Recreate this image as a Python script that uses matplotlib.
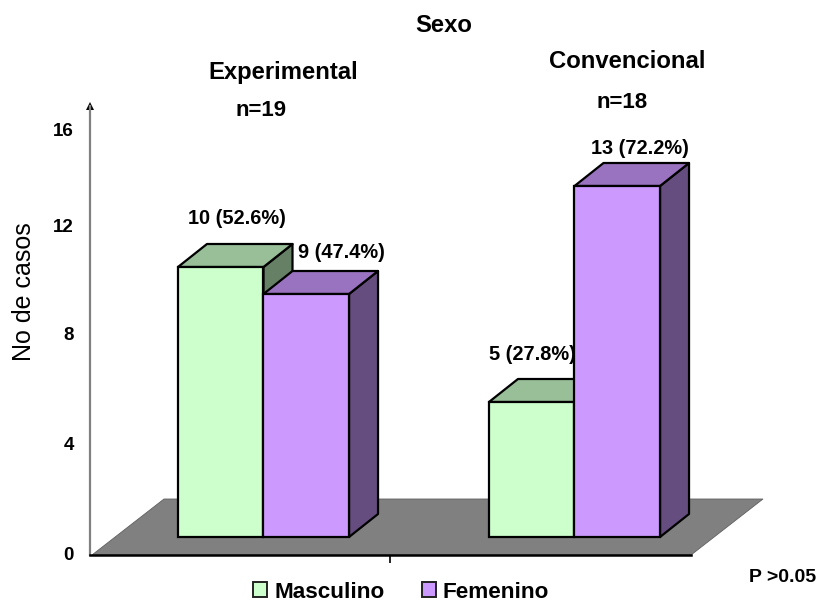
#!/usr/bin/env python
# -*- coding: utf-8 -*-

import matplotlib
matplotlib.use("Agg")
import matplotlib.pyplot as plt
from matplotlib.patches import Patch, Polygon
from matplotlib.transforms import Affine2D

# Data.
group_names = ["Experimental", "Convencional"]
group_sizes = ["n=19", "n=18"]
masculino_counts = [10, 5]
femenino_counts = [9, 13]
masculino_percent = [52.6, 27.8]
femenino_percent = [47.4, 72.2]
y_ticks = [0, 4, 8, 12, 16]

# Globals and constants variables.
WIDTH, HEIGHT = 819, 603
AXES_LEFT, AXES_RIGHT, AXES_BOTTOM, AXES_TOP = 90, 691, 555, 106
PX_PER_CASE = 27.0
PX_PER_GROUP = 311.0
BAR_WIDTH = 0.275
LIFT = 18 / PX_PER_CASE
DEPTH_X = 29 / PX_PER_GROUP
DEPTH_Y = 23 / PX_PER_CASE
EDGE_WIDTH = 1.6

plt.rcParams["font.family"] = ["Liberation Sans", "DejaVu Sans"]


def shade(color, factor):
    rgb = matplotlib.colors.to_rgb(color)
    return tuple(c * factor for c in rgb)


def draw_box(ax, x_center, value, color):
    left = x_center - BAR_WIDTH / 2
    right = x_center + BAR_WIDTH / 2
    bottom = LIFT
    top = LIFT + value

    edge = {"edgecolor": "black", "linewidth": EDGE_WIDTH, "joinstyle": "round", "clip_on": False}
    side = [(right, bottom), (right + DEPTH_X, bottom + DEPTH_Y),
            (right + DEPTH_X, top + DEPTH_Y), (right, top)]
    roof = [(left, top), (right, top),
            (right + DEPTH_X, top + DEPTH_Y), (left + DEPTH_X, top + DEPTH_Y)]
    ax.add_patch(Polygon(side, facecolor=shade(color, 0.5), **edge))
    ax.add_patch(Polygon(roof, facecolor=shade(color, 0.75), **edge))
    ax.bar(x_center, value, BAR_WIDTH, bottom=bottom, color=color, clip_on=False,
           edgecolor="black", linewidth=EDGE_WIDTH)


def label_box(ax, x_center, value, percent, offset):
    ax.annotate(f"{value} ({percent}%)", (x_center, LIFT + value), xytext=offset,
                textcoords="offset pixels", ha="center", va="center",
                fontsize=14.4, fontweight="bold", annotation_clip=False)


fig = plt.figure(figsize=(WIDTH / 100, HEIGHT / 100), dpi=100)
ax = fig.add_axes([AXES_LEFT / WIDTH, 1 - AXES_BOTTOM / HEIGHT,
                   (AXES_RIGHT - AXES_LEFT) / WIDTH, (AXES_BOTTOM - AXES_TOP) / HEIGHT])
ax.patch.set_visible(False)

ax.set_xlim((AXES_LEFT - 263.5) / PX_PER_GROUP, (AXES_RIGHT - 263.5) / PX_PER_GROUP)
ax.set_ylim(0, (AXES_BOTTOM - AXES_TOP) / PX_PER_CASE)

# Floor of the 3D box, drawn behind everything else.
floor_corners = [(AXES_LEFT + 2, AXES_BOTTOM), (AXES_RIGHT, AXES_BOTTOM),
                 (763, 499), (164, 499)]
floor_pixels = [(x, HEIGHT - y) for x, y in floor_corners]
fig.add_artist(Polygon(floor_pixels, closed=True, transform=None, facecolor="#808080",
                       edgecolor="#606060", linewidth=0.6, zorder=0))

for index in range(len(group_names)):
    draw_box(ax, index - BAR_WIDTH / 2, masculino_counts[index], "#CCFFCC")
    draw_box(ax, index + BAR_WIDTH / 2, femenino_counts[index], "#CC99FF")

label_box(ax, 0 - BAR_WIDTH / 2, masculino_counts[0], masculino_percent[0], (16.5, 48))
label_box(ax, 0 + BAR_WIDTH / 2, femenino_counts[0], femenino_percent[0], (35.5, 42))
label_box(ax, 1 - BAR_WIDTH / 2, masculino_counts[1], masculino_percent[1], (0.5, 47))
label_box(ax, 1 + BAR_WIDTH / 2, femenino_counts[1], femenino_percent[1], (22.5, 38))

# Axes lines.
for name in ("top", "right"):
    ax.spines[name].set_visible(False)
ax.spines["left"].set_color("#808080")
ax.spines["left"].set_linewidth(1.6)
ax.spines["bottom"].set_color("black")
ax.spines["bottom"].set_linewidth(1.8)
ax.plot([0], [1], marker="^", markersize=5.5, color="black", markeredgewidth=0,
        transform=ax.transAxes, clip_on=False, linestyle="none")

ax.set_xticks([sum(ax.get_xlim()) / 2], [""])
ax.tick_params(axis="x", length=5.8, width=1.2, color="black")

ax.set_yticks(y_ticks, [str(tick) for tick in y_ticks])
ax.tick_params(axis="y", length=0, pad=11.5)
tick_shifts = [2, 3, 5, 5, -7]
for label, shift in zip(ax.get_yticklabels(), tick_shifts):
    label.set_fontsize(13.5)
    label.set_fontweight("bold")
    label.set_transform(label.get_transform() + Affine2D().translate(0, shift))

ax.set_ylabel("No de casos", fontsize=18, va="center")
ax.yaxis.set_label_coords((24 - AXES_LEFT) / (AXES_RIGHT - AXES_LEFT),
                          (AXES_BOTTOM - 292) / (AXES_BOTTOM - AXES_TOP))


def pixel_text(x, y, text, size):
    fig.text(x / WIDTH, 1 - y / HEIGHT, text, fontsize=size, fontweight="bold",
             ha="center", va="center")


pixel_text(444, 25.5, "Sexo", 17.2)
pixel_text(283, 72, group_names[0], 17.2)
pixel_text(627, 62, group_names[1], 17.2)
pixel_text(261, 111, group_sizes[0], 16)
pixel_text(622, 103, group_sizes[1], 16)
pixel_text(782.5, 578, "P >0.05", 14)

handles = [Patch(facecolor="#CCFFCC", edgecolor="#222222", linewidth=1.4),
           Patch(facecolor="#CC99FF", edgecolor="#222222", linewidth=1.4)]
fig.legend(handles, ["Masculino", "Femenino"], loc="center", ncol=2, frameon=False,
           bbox_to_anchor=(401 / WIDTH, 1 - 592 / HEIGHT),
           prop={"size": 16.2, "weight": "bold"}, handlelength=0.63, handleheight=0.63,
           handletextpad=0.32, columnspacing=1.66, borderpad=0, borderaxespad=0)

fig.savefig("out.png", dpi=100)
